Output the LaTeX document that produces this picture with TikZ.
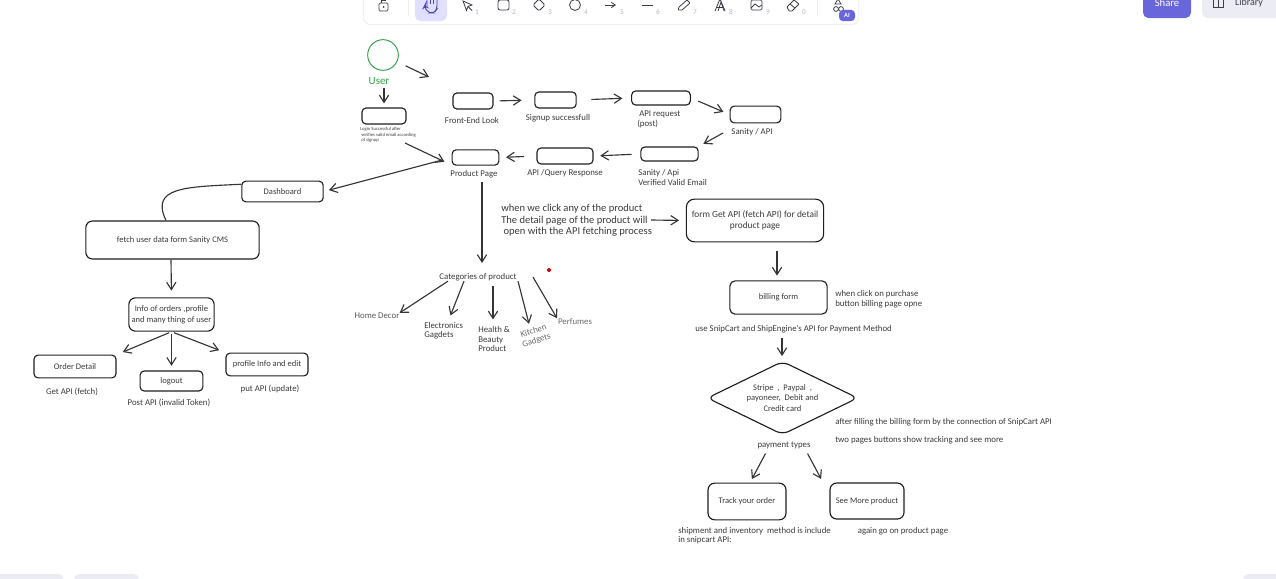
\documentclass[tikz,border=0pt]{standalone}
\usepackage{fontspec}
\setmainfont{Carlito}
\usetikzlibrary{arrows.meta}
\usetikzlibrary{positioning}
\usetikzlibrary{shapes.geometric}
\definecolor{ink}{HTML}{1E1E1E}
\definecolor{note}{HTML}{3A3A3A}
\definecolor{green}{HTML}{2F9E44}
\definecolor{violet}{HTML}{6965DB}
\definecolor{soft}{HTML}{E0DFFF}
\definecolor{panel}{HTML}{ECECF4}
\definecolor{icon}{HTML}{3D3D4A}
\definecolor{hand}{HTML}{4A47B1}
\definecolor{digit}{HTML}{B8B8C0}
\tikzset{
  box/.style={draw=ink,line width=.85pt,rounded corners=3pt,font=\fontsize{6.4}{8}\selectfont,text=note,align=center,inner sep=0pt},
  lbl/.style={font=\fontsize{6.6}{7.2}\selectfont,text=note,inner sep=0pt,yshift=-.8pt},
  lblleft/.style={lbl,anchor=west,align=left},
  faint/.style={lbl,text=note!75},
  num/.style={font=\fontsize{5.5}{6}\selectfont,text=digit,inner sep=0pt},
  tool/.style={draw=icon,line width=.6pt},
}
\begin{document}
\begin{tikzpicture}[x=.75pt,y=-.75pt]
    \useasboundingbox (0,0) rectangle (1276,578);
    \clip (0,0) rectangle (1276,578);

        % toolbar of the whiteboard, cut by the top edge
        \fill[black!6,rounded corners=5pt] (363,-12) rectangle (859,25);
        \fill[white,rounded corners=5pt] (364,-12) rectangle (858,24);
        \fill[soft,rounded corners=4pt] (415,-12) rectangle (447,21);
        \draw[panel,line width=.6pt] (408,-5) -- (408,16);
        \draw[panel,line width=.6pt] (817,-5) -- (817,16);
        \draw[tool,rounded corners=1pt] (379,3) rectangle (388,11);
        \draw[tool] (381,3) -- (381,0) -- (386,0);
        \fill[icon] (383.5,7) circle (1);
        \draw[draw=hand,line width=.7pt,rounded corners=2.5pt] (427,7) -- (427,-6) -- (437,-6) -- (437,9) -- (434,13) -- (429,13) -- (424,7) -- (425,5) -- (427,7);
        \draw[draw=hand,line width=.6pt] (430.3,-6) -- (430.3,4);
        \draw[draw=hand,line width=.6pt] (433.7,-6) -- (433.7,4);
        \draw[tool] (463,1) -- (472,5) -- (468,6.5) -- (466.5,10.5) -- cycle;
        \draw[tool] (468,6.5) -- (472,10.5);
        \draw[tool,rounded corners=1.5pt] (498,0) rectangle (509,10);
        \draw[tool,rounded corners=1pt] (539,-1) -- (545,5) -- (539,11) -- (533,5) -- cycle;
        \draw[tool] (575,5) circle (5.5);
        \draw[tool,-{Straight Barb[length=3pt,width=4pt]}] (605,5) -- (616,5);
        \draw[tool] (642,5) -- (653,5);
        \draw[tool,rounded corners=.5pt] (678,10) -- (679,7) -- (687,0) -- (690,3) -- (682,10) -- cycle;
        \draw[tool] (715,11) -- (720,-1) -- (725,11);
        \draw[tool] (718,11) -- (721,2) -- (724,11);
        \draw[tool] (716.5,7) -- (724,7);
        \draw[tool,rounded corners=1pt] (751,0) rectangle (762,10);
        \draw[tool] (751,8) -- (755,4) -- (759,7) -- (762,5);
        \draw[tool,rounded corners=.5pt] (787,7) -- (794,0) -- (799,4) -- (792,11) -- (789,11) -- cycle;
        \draw[tool] (790,4) -- (795,8);
        \draw[tool] (838,-1) -- (841,4) -- (835,4) -- cycle;
        \draw[tool] (836,9) circle (2.4);
        \draw[tool] (841,9) circle (2.4);
        \node[num] (n1) at (477,12) {1};
        \node[num] (n2) at (514,12) {2};
        \node[num] (n3) at (550,12) {3};
        \node[num] (n4) at (586,12) {4};
        \node[num] (n5) at (622,12) {5};
        \node[num] (n6) at (658,12) {6};
        \node[num] (n7) at (695,12) {7};
        \node[num] (n8) at (731,12) {8};
        \node[num] (n9) at (768,12) {9};
        \node[num] (n0) at (804,12) {0};
        \node[fill=violet,text=white,rounded corners=3pt,minimum width=12pt,minimum height=8.5pt,inner sep=0pt,font=\fontsize{4.8}{5}\bfseries\selectfont] (AI) at (847,15.5) {AI};

        % Share and Library buttons, bottom stubs
        \fill[violet,rounded corners=4pt] (1143,-12) rectangle (1191,18);
        \fill[panel,rounded corners=4pt] (1202,-12) rectangle (1290,18);
        \node[inner sep=0pt,text=white,font=\fontsize{8}{9}\selectfont] (Share) at (1167,3) {Share};
        \node[inner sep=0pt,text=icon,font=\fontsize{7.5}{9}\selectfont] (Library) at (1249,3) {Library};
        \draw[tool] (1213,-2) -- (1213,7) -- (1218,7) -- (1218,-2);
        \draw[tool] (1218,7) -- (1223,7) -- (1223,-2);
        \fill[panel,rounded corners=4pt] (-8,574) rectangle (64,590);
        \fill[panel,rounded corners=4pt] (74,574) rectangle (139,590);
        \fill[panel,rounded corners=4pt] (1243,574) rectangle (1290,590);

        % boxes of the flow
        \node[draw=green,line width=.7pt,circle,minimum size=23pt,inner sep=0pt] (User) at (383,55) {};
        \node[lbl,text=green,font=\fontsize{8.2}{9}\selectfont] (UserText) at (379,80) {User};
        \node[box,minimum width=33pt,minimum height=12pt] (Login) at (384,116) {};
        \node[box,minimum width=30pt,minimum height=12pt] (FrontEnd) at (473,101) {};
        \node[box,minimum width=31pt,minimum height=12pt] (Signup) at (555.5,100) {};
        \node[box,minimum width=44pt,minimum height=10.5pt] (ApiReq) at (661,98) {};
        \node[box,minimum width=38pt,minimum height=12.5pt] (Sanity) at (755.5,114.5) {};
        \node[box,minimum width=43pt,minimum height=10.5pt] (Verified) at (669.5,154) {};
        \node[box,minimum width=42pt,minimum height=12pt] (Query) at (565,156) {};
        \node[box,minimum width=35pt,minimum height=11.5pt] (Product) at (475.5,157.5) {};
        \node[box,minimum width=61pt,minimum height=15.5pt] (Dashboard) at (282.5,191.5) {Dashboard};
        \node[box,minimum width=130pt,minimum height=28.5pt,rounded corners=5pt] (Fetch) at (172.5,240) {fetch user data form Sanity CMS};
        \node[box,minimum width=64pt,minimum height=25pt,rounded corners=5pt] (Info) at (171.5,314.5) {Info of orders ,profile\\and many thing of user};
        \node[box,minimum width=61.5pt,minimum height=17pt] (Order) at (75,366.5) {Order Detail};
        \node[box,minimum width=47pt,minimum height=15pt] (Logout) at (171.5,381) {logout};
        \node[box,minimum width=61.5pt,minimum height=17pt] (Profile) at (267,364.5) {profile Info and edit};
        \node[box,minimum width=103pt,minimum height=32pt,rounded corners=6pt,font=\fontsize{7}{8}\selectfont] (FormGet) at (755,220.5) {form Get API (fetch API) for detail\\product page};
        \node[box,minimum width=73pt,minimum height=25pt,rounded corners=4pt] (Billing) at (778.5,297.5) {billing form};
        \node[box,shape=diamond,shape aspect=2,minimum width=113pt,minimum height=55pt,rounded corners=5pt] (Pay) at (782.5,398) {Stripe \ , \ Paypal \ ,\\payoneer, \ Debit and\\Credit card};
        \node[box,minimum width=58.5pt,minimum height=27.5pt,rounded corners=5pt] (Track) at (747,501.5) {Track your order};
        \node[box,minimum width=55.5pt,minimum height=27pt,rounded corners=5pt] (SeeMore) at (867,501) {See More product};

        % texts beside the boxes
        \node[lblleft,font=\fontsize{3.5}{4.2}\selectfont] (LoginNote) at (360,134) {Login Successful after\\\ verifies valid email according\\\ of signup};
        \node[lbl] (FrontEndText) at (472,119) {Front-End Look};
        \node[lbl] (SignupText) at (558,117) {Signup successfull};
        \node[lblleft] (ApiReqText) at (637,118.5) {\ API request\\(post)};
        \node[lbl] (SanityText) at (752,131) {Sanity / API};
        \node[lblleft] (VerifiedText) at (638,176.5) {Sanity / Api\\Verified Valid Email};
        \node[lbl] (QueryText) at (565,172) {API /Query Response};
        \node[lbl] (ProductText) at (474,173) {Product Page};
        \node[lbl] (OrderText) at (72,391) {Get API (fetch)};
        \node[lbl] (LogoutText) at (169,402) {Post API (invalid Token)};
        \node[lbl] (ProfileText) at (270,388) {put API (update)};
        \node[lblleft,font=\fontsize{7.9}{8.6}\selectfont] (ClickText) at (501,219.5) {when we click any of the product\\The detail page of the product will\\\ open with the API fetching process};
        \node[lbl] (Categories) at (478,276) {Categories of product};
        \node[lbl,text=note!85] (Home) at (377,315) {Home Decor};
        \node[lblleft] (Electronics) at (424,329.5) {Electronics\\Gagdets};
        \node[lblleft] (Health) at (478,338) {Health \&\\Beauty\\Product};
        \node[faint,rotate=18,align=center] (Kitchen) at (535,335) {Kitchen\\Gadgets};
        \node[faint] (Perfumes) at (575,320.5) {Perfumes};
        \node[lblleft] (BillingText) at (835,298) {when click on purchase\\button billing page opne};
        \node[lblleft] (MethodText) at (695,328) {use SnipCart and ShipEngine's API for Payment Method};
        \node[lbl] (PayText) at (784,444) {payment types};
        \node[lblleft] (AfterText) at (835,421) {after filling the billing form by the connection of SnipCart API};
        \node[lblleft] (TwoText) at (835,439) {two pages buttons show tracking and see more};
        \node[lblleft] (TrackText) at (678,534.5) {shipment and inventory \ method is include\\in snipcart API:};
        \node[lbl] (AgainText) at (903,530) {again go on product page};
        \node[circle,fill=red!80!black,minimum size=3pt,inner sep=0pt] (Dot) at (549,270) {};

        % free ends of the arrows that stop in the open
        \coordinate (FrontIn) at (429,77);
        \coordinate (LoginOut) at (405,143);
        \coordinate (SanityOut) at (723,133);
        \coordinate (ClickOut) at (651,220);

        % arrows
        \begin{scope}[>={Straight Barb[length=5.5pt,width=7pt]},
                  every edge/.style={draw=ink!90,line width=.85pt}]
        \path [->,shorten <=7pt] (User) edge (FrontIn);
        \path [->,shorten <=2pt,shorten >=3pt] (UserText.south -| Login.north) edge (Login.north);
        \path [->,shorten >=7pt] (LoginOut) edge (Product.200);
        \path [->,shorten <=4.5pt,shorten >=9.5pt] (FrontEnd.east) edge (Signup.west);
        \path [->,shorten <=11pt,shorten >=6.5pt] (Signup.east) edge (ApiReq.west);
        \path [->,shorten <=6pt,shorten >=5pt] (ApiReq.east) edge (Sanity.west);
        \path [->,shorten >=4pt] (SanityOut) edge (Verified.north east);
        \path [->,shorten <=6.5pt,shorten >=5pt] (Verified.west) edge (Query.east);
        \path [->,shorten <=9.5pt,shorten >=5pt] (Query.west) edge (Product.east);
        \path [->,line width=1.1pt,shorten <=7pt,shorten >=4pt] (Product.west) edge (Dashboard.east);
        \draw[draw=ink!90,line width=.85pt] (Dashboard.170) .. controls (185,187) and (150,187) .. (Fetch.north -| 166,0);
        \path [->,shorten >=5pt] (Fetch.south -| 171,0) edge (Info.north);
        \path [->,shorten <=2pt,shorten >=5pt] (Info.south) edge (Order.north east);
        \path [->,shorten <=2pt,shorten >=3.5pt] (Info.south) edge (Logout.north);
        \path [->,shorten <=2pt,shorten >=5pt] (Info.south) edge (Profile.north west);
        \path [->,shorten <=3pt,shorten >=7.5pt] (ProductText.south -| 482,0) edge (Categories.north -| 482,0);
        \path [->] (Categories.south -| 448,0) edge (Home.north east);
        \path [->,shorten >=5pt] (Categories.south -| 464,0) edge (Electronics.north -| 448,0);
        \path [->,shorten <=4pt,shorten >=5pt] (Categories.south -| 493,0) edge (Health.north -| 493,0);
        \path [->,shorten >=3pt] (Categories.south -| 518,0) edge (Kitchen.north -| 530,0);
        \path [->] (Categories.east -| 533,0) edge (Perfumes.north -| 557,0);
        \path [->,shorten >=5pt] (ClickOut) edge (FormGet.west);
        \path [->,shorten <=6.5pt,shorten >=3.5pt] (FormGet.south -| 777,0) edge (Billing.north -| 777,0);
        \path [->,shorten <=3.5pt,shorten >=3.5pt] (MethodText.south -| 782,0) edge (Pay.north -| 782,0);
        \path [->,shorten <=4pt,shorten >=3pt] (PayText.south -| 768,0) edge (Track.north -| 750,0);
        \path [->,shorten <=4pt,shorten >=3pt] (PayText.south -| 805,0) edge (SeeMore.north -| 823,0);
        \end{scope}

    \end{tikzpicture}
\end{document}
